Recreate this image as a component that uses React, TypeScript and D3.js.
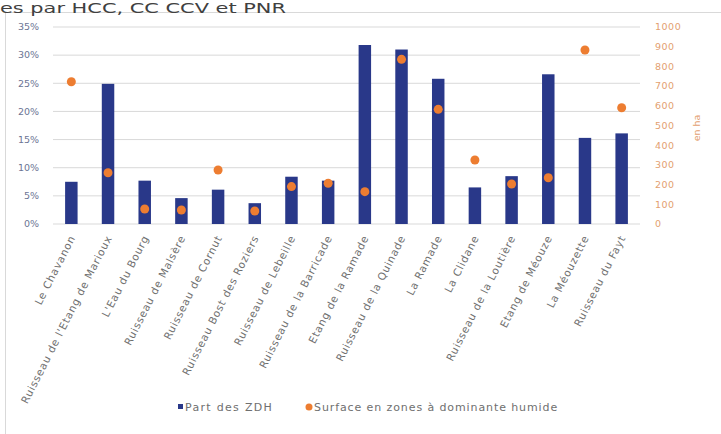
import React from "react";
import * as d3 from "d3";

const categories = [
  "Le Chavanon",
  "Ruisseau de l'Etang de Marioux",
  "L'Eau du Bourg",
  "Ruisseau de Malsère",
  "Ruisseau de Cornut",
  "Ruisseau Bost des Roziers",
  "Ruisseau de Lebeille",
  "Ruisseau de la Barricade",
  "Etang de la Ramade",
  "Ruisseau de la Quinade",
  "La Ramade",
  "La Clidane",
  "Ruisseau de la Loutière",
  "Etang de Méouze",
  "La Méouzette",
  "Ruisseau du Fayt",
];
const partZDH = [0.075, 0.249, 0.077, 0.046, 0.061, 0.037, 0.084, 0.077, 0.318, 0.31, 0.258, 0.065, 0.085, 0.266, 0.153, 0.161];
const surfaceHa = [722, 260, 76, 71, 274, 66, 190, 207, 164, 836, 582, 325, 203, 235, 883, 590];
const leftTicks = [0, 0.05, 0.1, 0.15, 0.2, 0.25, 0.3, 0.35];
const rightTicks = [0, 100, 200, 300, 400, 500, 600, 700, 800, 900, 1000];
const seriesNames = ["Part des ZDH", "Surface en zones à dominante humide"];
const titleText = "es par HCC, CC CCV et PNR";
const rightAxisTitle = "en ha";

const W = 721;
const H = 434;
const BAR = "#293889";
const DOT = "#ED7D31";
const FONT = "'DejaVu Sans', sans-serif";

export default function App() {
  const x = d3.scaleBand<string>().domain(categories).range([53, 640]).paddingInner(0.66).paddingOuter(0.33);
  const yL = d3.scaleLinear().domain([0, 0.35]).range([224, 27]);
  const yR = d3.scaleLinear().domain([0, 1000]).range([224, 27]);
  const fmtPct = d3.format(".0%");
  const bw = x.bandwidth();

  return (
    <svg width={W} height={H} style={{ position: "absolute", left: 0, top: 0, background: "#fff" }} fontFamily={FONT}>
      <rect x={5.5} y={12.5} width={W + 10} height={H + 10} fill="none" stroke="#d9d9d9" />
      <text x={0} y={12.5} fontSize={14.5} fill="#404040" textLength={286} lengthAdjust="spacingAndGlyphs">
        {titleText}
      </text>
      {leftTicks.map((t) => (
        <g key={"l" + t}>
          <line x1={53} x2={640} y1={yL(t)} y2={yL(t)} stroke="#d9d9d9" strokeWidth={1} />
          <text x={39} y={yL(t)} dy="0.35em" textAnchor="end" fontSize={9.5} fill="#6b7494">
            {fmtPct(t)}
          </text>
        </g>
      ))}
      {rightTicks.map((t) => (
        <text key={"r" + t} x={655} y={yR(t)} dy="0.35em" textAnchor="start" fontSize={9.5} fill="#e3a070" letterSpacing={0.5}>
          {t}
        </text>
      ))}
      <text
        transform={`translate(700,128) rotate(-90)`}
        textAnchor="middle"
        fontSize={9.5}
        fill="#e3a070"
      >
        {rightAxisTitle}
      </text>
      {categories.map((c, i) => (
        <rect key={"b" + c} x={x(c)!} y={yL(partZDH[i])} width={bw} height={yL(0) - yL(partZDH[i])} fill={BAR} />
      ))}
      {categories.map((c, i) => (
        <circle key={"d" + c} cx={x(c)! + bw / 2} cy={yR(surfaceHa[i])} r={4.5} fill={DOT} />
      ))}
      {categories.map((c) => {
        const cx = x(c)! + bw / 2;
        return (
          <text
            key={"t" + c}
            transform={`translate(${cx + 1},236) rotate(-63)`}
            textAnchor="end"
            dy="0.35em"
            fontSize={10.5}
            letterSpacing={0.75}
            fill="#6f6f6f"
          >
            {c}
          </text>
        );
      })}
      <g>
        <rect x={178} y={404} width={5} height={5} fill={BAR} />
        <text x={185} y={407} dy="0.35em" fontSize={11} letterSpacing={1.3} fill="#6f6f6f">
          {seriesNames[0]}
        </text>
        <circle cx={309} cy={407} r={3.5} fill={DOT} />
        <text x={314} y={407} dy="0.35em" fontSize={11} letterSpacing={0.9} fill="#6f6f6f">
          {seriesNames[1]}
        </text>
      </g>
    </svg>
  );
}
